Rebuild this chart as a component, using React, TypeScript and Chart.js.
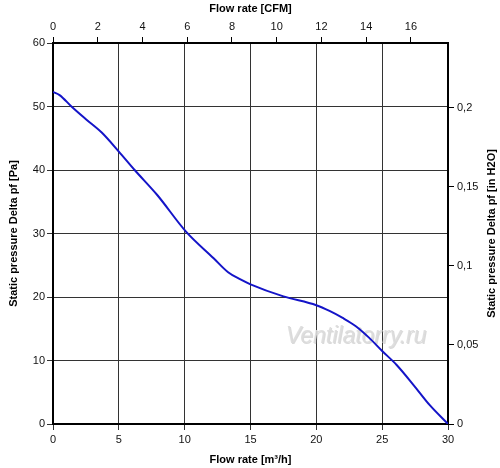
import React, { useEffect, useRef } from "react";
import { Chart, registerables } from "chart.js";

Chart.register(...registerables);

// Curve: flow rate [m³/h] vs static pressure [Pa]
const flowM3h = [0, 0.5, 1.4, 2.5, 3.7, 5.0, 6.2, 7.9, 10.1, 12.2, 13.3, 14.2, 15.0, 17.5, 20.0, 21.0, 22.0, 23.0, 24.0, 25.0, 26.1, 27.4, 28.6, 30];
const pressurePa = [52.3, 51.8, 50.0, 48.0, 45.9, 42.9, 40.0, 36.1, 30.3, 26.1, 23.9, 22.8, 22.0, 20.1, 18.7, 17.8, 16.7, 15.4, 13.6, 11.5, 9.3, 6.1, 3.0, 0];

const cfmTicks = [0, 2, 4, 6, 8, 10, 12, 14, 16];
const inH2OTicks = [0, 0.05, 0.1, 0.15, 0.2];

const CFM_PER_M3H = 0.588578;
const PA_PER_INH2O = 249.0889;
const X_MAX = 30;
const Y_MAX = 60;

const FONT = "'Liberation Sans', Arial, sans-serif";
const RIGHT_TITLE = "Static pressure Delta pf [in H2O]";

const extras = {
  id: "extras",
  beforeDatasetsDraw(chart: any) {
    const { ctx } = chart;
    ctx.save();
    ctx.font = "italic 23px 'Liberation Sans', Arial, sans-serif";
    ctx.textAlign = "center";
    ctx.textBaseline = "alphabetic";
    ctx.fillStyle = "rgba(150,150,150,0.35)";
    ctx.fillText("Ventilatorry.ru", 357, 344);
    ctx.fillStyle = "rgba(220,220,220,0.9)";
    ctx.fillText("Ventilatorry.ru", 356, 343);
    ctx.restore();
  },
  afterDraw(chart: any) {
    const { ctx, chartArea } = chart;
    ctx.save();
    ctx.font = `bold 11px ${FONT}`;
    ctx.fillStyle = "#000";
    ctx.textAlign = "center";
    ctx.textBaseline = "middle";
    ctx.translate(chart.width - 8, (chartArea.top + chartArea.bottom) / 2);
    ctx.rotate(-Math.PI / 2);
    ctx.fillText(RIGHT_TITLE, 0, 0);
    ctx.restore();
  },
};

export default function App() {
  const ref = useRef<HTMLCanvasElement | null>(null);

  useEffect(() => {
    document.body.style.margin = "0";
    const canvas = ref.current;
    if (!canvas) return;
    const tickFont = { family: FONT, size: 11 };
    const titleFont = { family: FONT, size: 11, weight: "bold" as const };
    const chart = new Chart(canvas, {
      type: "line",
      data: {
        datasets: [
          {
            data: flowM3h.map((x, i) => ({ x, y: pressurePa[i] })),
            borderColor: "#1414c8",
            borderWidth: 2,
            pointRadius: 0,
            cubicInterpolationMode: "monotone",
            fill: false,
          },
        ],
      },
      options: {
        responsive: false,
        animation: false,
        events: [],
        layout: { padding: 0 },
        plugins: { legend: { display: false }, tooltip: { enabled: false } },
        scales: {
          x: {
            type: "linear",
            position: "bottom",
            min: 0,
            max: X_MAX,
            ticks: { stepSize: 5, font: tickFont, color: "#111", padding: 3, maxRotation: 0 },
            grid: { color: "#333", lineWidth: 1, tickLength: 6 },
            border: { color: "#000", width: 2 },
            title: { display: true, text: "Flow rate [m³/h]", font: titleFont, color: "#000", padding: { top: 0, bottom: 1 } },
            afterFit: (s: any) => { s.height = 44; },
          },
          x2: {
            type: "linear",
            position: "top",
            min: 0,
            max: X_MAX * CFM_PER_M3H,
            afterBuildTicks: (s: any) => { s.ticks = cfmTicks.map((v) => ({ value: v })); },
            ticks: { font: tickFont, color: "#111", padding: 3, maxRotation: 0 },
            grid: { drawOnChartArea: false, color: "#000", lineWidth: 1, tickLength: 6 },
            border: { color: "#000", width: 2 },
            title: { display: true, text: "Flow rate [CFM]", font: titleFont, color: "#000", padding: { top: 2.5, bottom: 0 } },
            afterFit: (s: any) => { s.height = 43; },
          },
          y: {
            type: "linear",
            position: "left",
            min: 0,
            max: Y_MAX,
            ticks: { stepSize: 10, font: tickFont, color: "#111", padding: 2 },
            grid: { color: "#333", lineWidth: 1, tickLength: 6 },
            border: { color: "#000", width: 2 },
            title: { display: true, text: "Static pressure Delta pf [Pa]", font: titleFont, color: "#000", padding: { top: 7, bottom: 0 } },
            afterFit: (s: any) => { s.width = 53; },
          },
          y2: {
            type: "linear",
            position: "right",
            min: 0,
            max: Y_MAX / PA_PER_INH2O,
            afterBuildTicks: (s: any) => { s.ticks = inH2OTicks.map((v) => ({ value: v })); },
            ticks: {
              font: tickFont,
              color: "#111",
              padding: 3,
              callback: (v: any) => String(Math.round(Number(v) * 100) / 100).replace(".", ","),
            },
            grid: { drawOnChartArea: false, color: "#000", lineWidth: 1, tickLength: 6 },
            border: { color: "#000", width: 2 },
            title: { display: false },
            afterFit: (s: any) => { s.width = 52; },
          },
        },
      },
      plugins: [extras],
    });
    return () => chart.destroy();
  }, []);

  return (
    <div style={{ position: "absolute", left: 0, top: 0, width: 500, height: 468, background: "#fff" }}>
      <canvas ref={ref} width={500} height={468} />
    </div>
  );
}
